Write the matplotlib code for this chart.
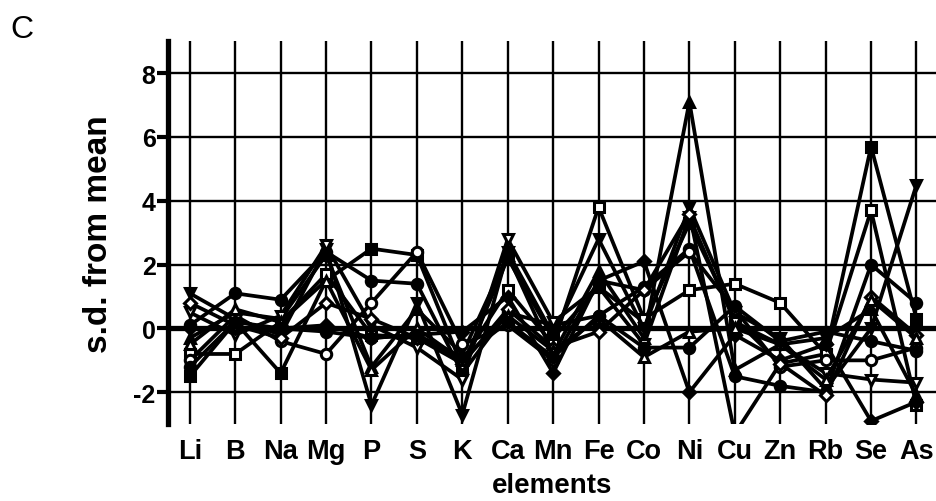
import matplotlib
matplotlib.use("Agg")
import matplotlib.pyplot as plt
import numpy as np

plt.rcParams["font.family"] = ["Liberation Sans", "DejaVu Sans"]
plt.rcParams["axes.unicode_minus"] = False

elementos = ["Li", "B", "Na", "Mg", "P", "S", "K", "Ca", "Mn", "Fe",
             "Co", "Ni", "Cu", "Zn", "Rb", "Se", "As"]

# desvios (s.d. from mean) por amostra
s_quad_cheio = [-1.5, 0.2, -1.4, 1.5, 2.5, 2.3, -1.2, 2.2, -0.3, 1.3, 0.2, 3.3, 0.3, -1.1, -0.8, 5.7, 0.3]
s_quad_vazio = [-0.8, -0.8, 0.2, 1.7, -0.2, -0.3, -1.0, 1.2, -0.5, 3.8, 0.3, 1.2, 1.4, 0.8, -0.8, 3.7, -2.4]
s_tri_cheio = [-0.3, 0.5, 0.3, 2.3, -1.2, 0.6, -0.8, 2.3, -0.8, 1.8, -0.3, 7.1, -1.3, -0.5, -0.3, 0.6, -2.1]
s_triinv_cheio = [1.1, 0.3, -0.2, 2.5, -2.4, 0.8, -2.7, 2.4, -0.2, 2.8, 0.0, 3.8, 0.5, -0.3, -1.9, 0.0, 4.5]
s_circ_cheio = [0.1, 1.1, 0.9, 2.4, 1.5, 1.4, -1.4, 0.5, 0.1, 0.4, 1.3, 2.5, -1.5, -1.8, -2.0, 2.0, 0.8]
s_circ_vazio = [-1.0, 0.4, -0.4, -0.8, 0.8, 2.4, -0.5, 0.1, -1.0, 1.5, 1.2, 2.4, 0.6, -1.2, -1.0, -1.0, -0.6]
s_triinv_vazio = [0.5, -0.2, 0.4, 2.6, 0.1, -0.6, -1.6, 2.8, 0.2, 1.3, -0.5, 3.5, 0.2, -0.5, -1.4, -1.6, -1.7]
s_losango_cheio = [0.0, 0.0, 0.0, 0.1, -0.3, -0.2, -0.1, 1.0, -1.4, 1.5, 2.1, -2.0, -0.2, -1.0, -0.5, -2.9, -2.3]
s_losango_vazio = [0.8, 0.1, -0.3, 0.8, 0.3, -0.3, -1.1, 0.6, -0.6, -0.1, 1.2, 3.6, -3.3, -1.1, -2.1, 1.0, -0.2]
s_tri_vazio = [-0.5, 0.6, 0.2, 1.5, -1.3, 0.0, -1.0, 0.4, -0.7, 0.3, -0.9, -0.1, 0.0, -0.5, -1.6, 0.9, -0.3]
s_circ_peq = [-1.2, 0.2, 0.0, -0.1, -0.3, -0.2, -0.9, 0.2, -0.9, 0.4, -0.6, -0.6, 0.7, -0.4, -0.1, -0.4, -0.7]

series = [
    (s_quad_cheio, "s", True),
    (s_quad_vazio, "s", False),
    (s_tri_cheio, "^", True),
    (s_triinv_cheio, "v", True),
    (s_circ_cheio, "o", True),
    (s_circ_vazio, "o", False),
    (s_triinv_vazio, "v", False),
    (s_losango_cheio, "D", True),
    (s_losango_vazio, "D", False),
    (s_tri_vazio, "^", False),
    (s_circ_peq, "o", True),
]

x = np.arange(len(elementos))

fig = plt.figure(figsize=(9.36, 5.02), dpi=100)
ax = fig.add_axes([0.1795, 0.153, 0.8205, 0.763])

ax.set_xlim(-0.48, 16.43)
ax.set_ylim(-3, 9)
ax.set_yticks([-2, 0, 2, 4, 6, 8])
ax.set_xticks(x)
ax.set_xticklabels(elementos, fontsize=19.5, fontweight="bold")
ax.grid(True, color="black", lw=1.7, zorder=0)
ax.set_axisbelow(True)
ax.axhline(0, color="black", lw=3.8, zorder=1)

for vals, mk, cheio in series:
    ax.plot(x, vals, color="black", lw=2.7, marker=mk, ms=7.5 if mk != "D" else 6,
            mfc="black" if cheio else "white", mec="black", mew=2.2, zorder=3)

for s in ["top", "right", "bottom"]:
    ax.spines[s].set_visible(False)
ax.spines["left"].set_linewidth(3.8)
ax.tick_params(axis="y", length=8, width=3, labelsize=18, pad=1)
for t in ax.get_yticklabels():
    t.set_fontweight("bold")
ax.tick_params(axis="x", length=0, pad=10)

ax.set_ylabel("s.d. from mean", fontsize=24, fontweight="bold", labelpad=14)
ax.set_xlabel("elements", fontsize=20, fontweight="bold", labelpad=6)
fig.text(0.011, 0.925, "C", fontsize=23)

fig.savefig("out.png", dpi=100)
